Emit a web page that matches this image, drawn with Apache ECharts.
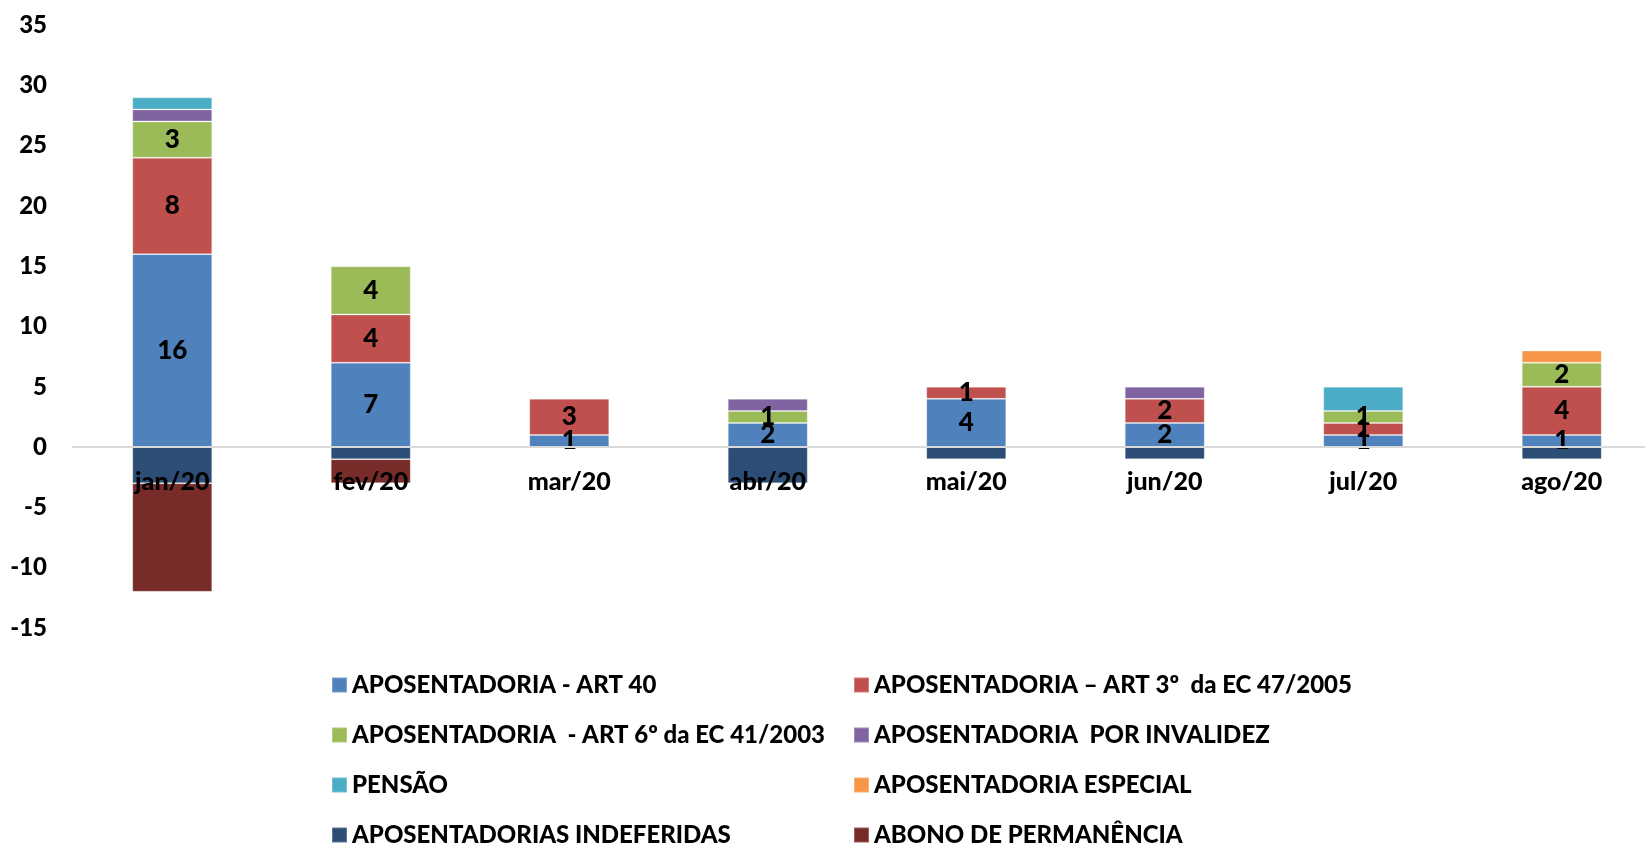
<!DOCTYPE html>
<html>
<head>
<meta charset="utf-8">
<script src="https://cdn.jsdelivr.net/npm/echarts@6/dist/echarts.min.js"></script>
<style>
  html, body { margin: 0; padding: 0; background: #fff; }
  #chart { width: 1645px; height: 846px; }
</style>
</head>
<body>
<div id="chart"></div>
<script>
const months = ['jan/20', 'fev/20', 'mar/20', 'abr/20', 'mai/20', 'jun/20', 'jul/20', 'ago/20']

const art40 = [16, 7, 1, 2, 4, 2, 1, 1]
const art3 = [8, 4, 3, 0, 1, 2, 1, 4]
const art6 = [3, 4, 0, 1, 0, 0, 1, 2]
const invalidez = [1, 0, 0, 1, 0, 1, 0, 0]
const pensao = [1, 0, 0, 0, 0, 0, 2, 0]
const especial = [0, 0, 0, 0, 0, 0, 0, 1]
const indeferidas = [-3, -1, 0, -3, -1, -1, 0, -1]
const abono = [-9, -2, 0, 0, 0, 0, 0, 0]

const names = [
  'APOSENTADORIA - ART 40',
  'APOSENTADORIA – ART 3º  da EC 47/2005',
  'APOSENTADORIA  - ART 6º da EC 41/2003',
  'APOSENTADORIA  POR INVALIDEZ',
  'PENSÃO',
  'APOSENTADORIA ESPECIAL',
  'APOSENTADORIAS INDEFERIDAS',
  'ABONO DE PERMANÊNCIA',
]
const values = [art40, art3, art6, invalidez, pensao, especial, indeferidas, abono]
const colors = ['#4F81BD', '#C0504D', '#9BBB59', '#8064A2', '#4BACC6', '#F79646', '#2C4D75', '#772C2A']

const font = 'Lato, "Liberation Sans", sans-serif'

const chart = echarts.init(document.getElementById('chart'))

const series = values.map((v, i) => ({
  name: names[i],
  type: 'bar',
  stack: 'total',
  barWidth: 80,
  data: v.map((x) => (x === 0 ? null : x)),
  itemStyle: { color: colors[i], borderColor: 'rgba(255,255,255,0.25)', borderWidth: 1 },
  label: {
    show: i < 3,
    position: 'inside',
    color: '#000',
    fontFamily: font,
    fontWeight: 900,
    fontSize: 26,
  },
}))

const legendText = { color: '#000', fontFamily: font, fontWeight: 900, fontSize: 24 }

chart.setOption({
  animation: false,
  color: colors,
  grid: { left: 73, top: 25, width: 1588, height: 603, outerBoundsMode: 'none' },
  legend: [
    {
      orient: 'vertical', left: 331, top: 673, height: 200, padding: 0, itemGap: 26,
      icon: 'rect', itemWidth: 15, itemHeight: 15,
      textStyle: legendText,
      data: [names[0], names[2], names[4], names[6]],
    },
    {
      orient: 'vertical', left: 853, top: 673, height: 200, padding: 0, itemGap: 26,
      icon: 'rect', itemWidth: 15, itemHeight: 15,
      textStyle: legendText,
      data: [names[1], names[3], names[5], names[7]],
    },
  ],
  xAxis: {
    type: 'category',
    data: months,
    z: 10,
    offset: -181,
    axisLine: { onZero: false, lineStyle: { color: '#D9D9D9', width: 2 } },
    axisTick: { show: false },
    axisLabel: { color: '#000', fontFamily: font, fontWeight: 900, fontSize: 25, margin: 22 },
  },
  yAxis: {
    type: 'value',
    min: -15,
    max: 35,
    interval: 5,
    splitLine: { show: false },
    axisLine: { show: false },
    axisLabel: { color: '#000', fontFamily: font, fontWeight: 900, fontSize: 24, margin: 26 },
  },
  series: series,
})
</script>
</body>
</html>
